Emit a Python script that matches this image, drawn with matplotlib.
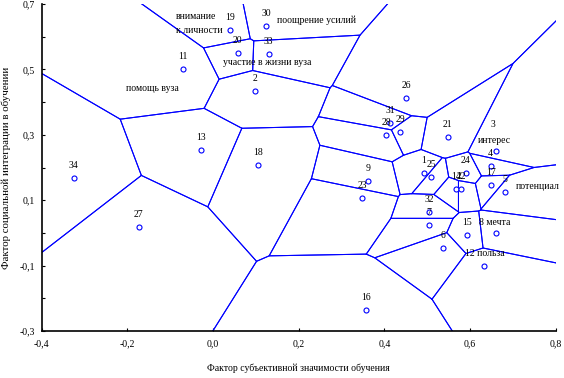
import numpy as np
import matplotlib
matplotlib.use('Agg')
import matplotlib.pyplot as plt
from matplotlib.ticker import FuncFormatter, MultipleLocator, FixedLocator

plt.rcParams['font.family'] = ['Liberation Serif', 'DejaVu Serif']

# case labels and factor scores
labels = ['1', '2', '3', '4', '5', '6', '7', '8', '9', '11', '12', '13', '14', '15', '16', '17',
          '18', '19', '20', '21', '22', '23', '24', '25', '26', '27', '28', '29', '30', '31',
          '32', '33', '34']
x_vals = [0.492, 0.097, 0.661, 0.648, 0.681, 0.536, 0.504, 0.660, 0.362, -0.071, 0.633, -0.029,
          0.567, 0.593, 0.356, 0.650, 0.104, 0.040, 0.058, 0.548, 0.579, 0.348, 0.590, 0.509,
          0.451, -0.174, 0.404, 0.437, 0.124, 0.413, 0.504, 0.130, -0.325]
y_vals = [0.182, 0.434, 0.250, 0.205, 0.125, -0.046, 0.024, 0.000, 0.158, 0.500, -0.101, 0.252,
          0.133, -0.006, -0.236, 0.145, 0.208, 0.619, 0.549, 0.294, 0.133, 0.106, 0.182, 0.171,
          0.412, 0.018, 0.298, 0.310, 0.632, 0.336, 0.065, 0.547, 0.167]
# these get their number placed by hand in the notes
no_label = ['3', '8', '12']

notes = ['внимание', 'к личности', 'поощрение усилий', 'участие в жизни вуза', 'помощь вуза',
         '3', 'интерес', 'потенциал', '8 мечта', '12 польза']
note_x = [-0.086, -0.086, 0.149, 0.024, -0.203, 0.647, 0.619, 0.706, 0.622, 0.588]
note_y = [0.663, 0.620, 0.649, 0.520, 0.441, 0.330, 0.284, 0.141, 0.032, -0.063]

x_ticks = [-0.4, -0.2, 0.0, 0.2, 0.4, 0.6, 0.8]
y_ticks = [-0.3, -0.1, 0.1, 0.3, 0.5, 0.7]


def clip_poly(poly, n, c):
    # keep the part of poly where n . p <= c
    out = []
    k = len(poly)
    for i in range(k):
        p, q = poly[i], poly[(i + 1) % k]
        fp, fq = np.dot(n, p) - c, np.dot(n, q) - c
        if fp <= 0:
            out.append(p)
        if fp * fq < 0:
            t = fp / (fp - fq)
            out.append(p + t * (q - p))
    return out


# voronoi cells, built by cutting a big box with the bisectors
pts = np.column_stack([x_vals, y_vals])
cells = []
for i, p in enumerate(pts):
    poly = [np.array(v, float) for v in [(-5, -5), (5, -5), (5, 5), (-5, 5)]]
    for j, q in enumerate(pts):
        if i == j:
            continue
        n = q - p
        c = (np.dot(q, q) - np.dot(p, p)) / 2
        poly = clip_poly(poly, n, c)
        if not poly:
            break
    cells.append(np.array(poly))

fig = plt.figure(figsize=(5.64, 3.78), dpi=100)
ax = fig.add_axes([41.7 / 564, 47 / 378, 514 / 564, 327 / 378])

for cell in cells:
    closed = np.vstack([cell, cell[:1]])
    ax.plot(closed[:, 0], closed[:, 1], color='#0000ff', lw=0.75)

ax.plot(x_vals, y_vals, 'o', ls='none', mfc='white', mec='#0000ff', ms=3.6, mew=0.8, zorder=3)

for lab, xv, yv in zip(labels, x_vals, y_vals):
    if lab in no_label:
        continue
    ax.annotate(lab, (xv, yv), xytext=(0, 9), textcoords='offset points',
                ha='center', va='center', fontsize=7, zorder=4)

for txt, xv, yv in zip(notes, note_x, note_y):
    ax.text(xv, yv, txt, ha='left', va='center', fontsize=7, zorder=4)

ax.set_xlim(-0.4, 0.8)
ax.set_ylim(-0.3, 0.7)
ax.xaxis.set_major_locator(FixedLocator(x_ticks))
ax.yaxis.set_major_locator(FixedLocator(y_ticks))
ax.yaxis.set_minor_locator(MultipleLocator(0.1))
fmt = FuncFormatter(lambda v, p: f"{round(v, 1) + 0.0:.1f}".replace('.', ','))
ax.xaxis.set_major_formatter(fmt)
ax.yaxis.set_major_formatter(fmt)
ax.tick_params(which='both', direction='in', length=2, width=0.8, labelsize=7)
ax.tick_params(axis='x', pad=6)
ax.tick_params(axis='y', pad=5)

for s in ['top', 'right']:
    ax.spines[s].set_visible(False)
for s in ['left', 'bottom']:
    ax.spines[s].set_linewidth(1.2)

ax.set_xlabel('Фактор субъективной значимости обучения', fontsize=7, labelpad=11)
ax.set_ylabel('Фактор социальной интеграции в обучении', fontsize=7.8, labelpad=6)

fig.savefig('out.png', dpi=100)
